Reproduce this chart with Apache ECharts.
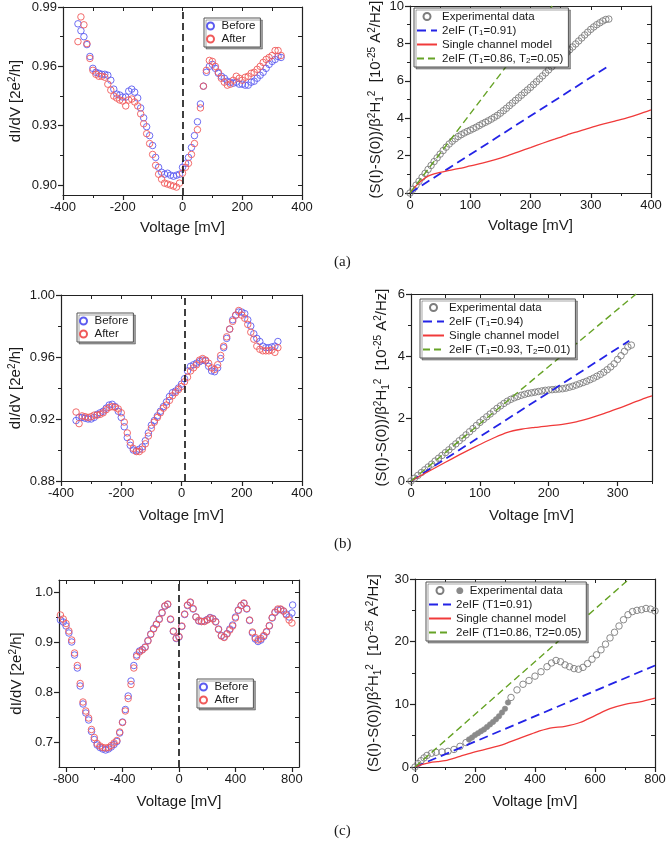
<!DOCTYPE html>
<html><head><meta charset="utf-8">
<script src="https://cdn.jsdelivr.net/npm/echarts@6/dist/echarts.min.js"></script>
<style>html,body{margin:0;padding:0;background:#fff}#c{width:666px;height:841px}</style>
</head><body><div id="c"></div>
<script>
// ---------- DATA ----------
// Panel (a) left: dI/dV
const aVolt = [-350,-340,-330,-320,-310,-300,-290,-280,-270,-260,-250,-240,-230,-220,-210,-200,-190,-180,-170,-160,-150,-140,-130,-120,-110,-100,-90,-80,-70,-60,-50,-40,-30,-20,-10,0,10,20,30,40,50,60,70,80,90,100,110,120,130,140,150,160,170,180,190,200,210,220,230,240,250,260,270,280,290,300,310,320,330];
const aBefore = [0.9815,0.978,0.975,0.971,0.965,0.959,0.957,0.9565,0.956,0.956,0.9555,0.953,0.9485,0.946,0.9455,0.9445,0.9445,0.9475,0.9485,0.947,0.944,0.939,0.934,0.9295,0.925,0.920,0.914,0.909,0.9065,0.9055,0.906,0.905,0.9045,0.905,0.9055,0.909,0.911,0.914,0.919,0.925,0.932,0.941,0.950,0.957,0.960,0.961,0.959,0.9565,0.955,0.954,0.9525,0.952,0.9515,0.952,0.951,0.951,0.9505,0.9505,0.952,0.9525,0.954,0.9555,0.957,0.959,0.961,0.9625,0.9635,0.965,0.9645];
const aAfter = [0.9725,0.985,0.981,0.9715,0.964,0.958,0.956,0.955,0.955,0.9545,0.951,0.948,0.945,0.944,0.943,0.9425,0.940,0.943,0.9435,0.942,0.940,0.936,0.931,0.926,0.921,0.9155,0.910,0.9055,0.903,0.901,0.9005,0.900,0.8995,0.899,0.901,0.906,0.909,0.911,0.9155,0.921,0.928,0.939,0.950,0.958,0.963,0.9625,0.960,0.957,0.954,0.952,0.9505,0.951,0.953,0.955,0.954,0.953,0.9545,0.955,0.9565,0.957,0.9585,0.960,0.962,0.9635,0.9645,0.9655,0.968,0.968,0.9655];
const aDashV = 0;
// Panel (a) right: noise
const aExpV = [0,5,10,15,20,25,30,35,40,45,50,55,60,65,70,75,80,85,90,95,100,105,110,115,120,125,130,135,140,145,150,155,160,165,170,175,180,185,190,195,200,205,210,215,220,225,230,235,240,245,250,255,260,265,270,275,280,285,290,295,300,305,310,315,320,325,330];
const aExp = [0,0.2,0.42,0.63,0.84,1.05,1.26,1.47,1.68,1.88,2.08,2.27,2.45,2.62,2.77,2.9,3.02,3.12,3.21,3.29,3.36,3.44,3.52,3.61,3.7,3.78,3.86,3.95,4.05,4.15,4.27,4.4,4.53,4.67,4.81,4.95,5.09,5.23,5.37,5.51,5.65,5.8,5.95,6.1,6.26,6.42,6.58,6.74,6.9,7.05,7.2,7.35,7.5,7.66,7.81,7.97,8.13,8.29,8.45,8.6,8.75,8.88,9.0,9.1,9.2,9.28,9.3];
const aT1V = [0,330], aT1 = [0,6.8];
const aSingleV = [0,10,20,30,40,50,60,80,100,120,140,160,180,200,220,240,260,280,300,320,340,360,380,400];
const aSingle = [0,0.38,0.68,0.9,1.02,1.1,1.17,1.3,1.45,1.6,1.77,1.97,2.2,2.43,2.66,2.88,3.1,3.3,3.5,3.68,3.85,4.02,4.22,4.45];
const aT12V = [0,236], aT12 = [0,10];

// Panel (b) left
const bVolt = [-350,-340,-330,-320,-310,-300,-290,-280,-270,-260,-250,-240,-230,-220,-210,-200,-190,-180,-170,-160,-150,-140,-130,-120,-110,-100,-90,-80,-70,-60,-50,-40,-30,-20,-10,0,10,20,30,40,50,60,70,80,90,100,110,120,130,140,150,160,170,180,190,200,210,220,230,240,250,260,270,280,290,300,310,320];
const bBefore = [0.919,0.921,0.921,0.9205,0.920,0.920,0.921,0.923,0.924,0.925,0.927,0.929,0.9295,0.928,0.925,0.921,0.915,0.908,0.903,0.900,0.8995,0.9005,0.902,0.906,0.911,0.916,0.919,0.922,0.925,0.928,0.931,0.9345,0.937,0.938,0.940,0.9425,0.946,0.951,0.954,0.955,0.956,0.957,0.958,0.9575,0.954,0.951,0.9505,0.953,0.959,0.966,0.972,0.978,0.984,0.987,0.989,0.989,0.988,0.984,0.980,0.975,0.972,0.970,0.967,0.966,0.966,0.9665,0.967,0.970];
const bAfter = [0.9245,0.917,0.922,0.9215,0.921,0.9215,0.9225,0.9225,0.923,0.924,0.926,0.9275,0.928,0.9275,0.9265,0.924,0.918,0.911,0.905,0.901,0.899,0.899,0.9005,0.904,0.909,0.914,0.918,0.921,0.924,0.927,0.929,0.932,0.935,0.937,0.939,0.941,0.944,0.947,0.951,0.953,0.955,0.958,0.959,0.958,0.956,0.953,0.952,0.955,0.961,0.967,0.973,0.978,0.983,0.987,0.990,0.987,0.985,0.981,0.976,0.9715,0.967,0.965,0.964,0.964,0.964,0.9645,0.963,0.966];
const bDashV = 10;
// Panel (b) right
const bExpV = [0,5,10,15,20,25,30,35,40,45,50,55,60,65,70,75,80,85,90,95,100,105,110,115,120,125,130,135,140,145,150,155,160,165,170,175,180,185,190,195,200,205,210,215,220,225,230,235,240,245,250,255,260,265,270,275,280,285,290,295,300,305,310,315,320];
const bExp = [0,0.09,0.18,0.27,0.36,0.45,0.54,0.64,0.73,0.82,0.91,1.0,1.1,1.19,1.29,1.38,1.48,1.58,1.68,1.78,1.88,1.97,2.06,2.15,2.24,2.33,2.41,2.49,2.56,2.62,2.67,2.71,2.75,2.78,2.81,2.83,2.85,2.87,2.89,2.91,2.92,2.93,2.94,2.95,2.96,2.98,3.01,3.04,3.08,3.12,3.16,3.2,3.25,3.3,3.36,3.42,3.49,3.57,3.66,3.76,3.9,4.02,4.16,4.3,4.36];
const bT1V = [0,317], bT1 = [0,4.5];
const bSingleV = [0,20,40,60,80,100,120,140,160,180,200,220,240,260,280,300,320,340,350];
const bSingle = [0,0.24,0.48,0.72,0.95,1.17,1.38,1.56,1.66,1.72,1.77,1.82,1.9,2.02,2.16,2.32,2.49,2.66,2.73];
const bT12V = [0,327], bT12 = [0,6];

// Panel (c) left
const cVolt = [-840,-820,-800,-780,-760,-740,-720,-700,-680,-660,-640,-620,-600,-580,-560,-540,-520,-500,-480,-460,-440,-420,-400,-380,-360,-340,-320,-300,-280,-260,-240,-220,-200,-180,-160,-140,-120,-100,-80,-60,-40,-20,0,20,40,60,80,100,120,140,160,180,200,220,240,260,280,300,320,340,360,380,400,420,440,460,480,500,520,540,560,580,600,620,640,660,680,700,720,740,760,780,800];
const cBefore = [0.944,0.940,0.932,0.918,0.900,0.874,0.848,0.812,0.776,0.758,0.744,0.721,0.705,0.694,0.689,0.686,0.684,0.686,0.690,0.695,0.701,0.718,0.740,0.765,0.792,0.822,0.853,0.874,0.882,0.885,0.890,0.903,0.916,0.927,0.936,0.946,0.959,0.972,0.975,0.945,0.921,0.907,0.910,0.931,0.955,0.973,0.979,0.966,0.950,0.942,0.941,0.942,0.945,0.949,0.947,0.941,0.926,0.913,0.910,0.917,0.926,0.934,0.950,0.964,0.973,0.977,0.966,0.943,0.918,0.906,0.901,0.904,0.911,0.920,0.932,0.948,0.959,0.964,0.965,0.962,0.956,0.950,0.958];
const cBeforeTailV = [805], cBeforeTail = [0.974];
const cAfter = [0.954,0.946,0.937,0.922,0.904,0.878,0.853,0.817,0.780,0.762,0.748,0.725,0.709,0.697,0.692,0.689,0.688,0.689,0.693,0.698,0.703,0.720,0.739,0.762,0.787,0.815,0.848,0.871,0.880,0.884,0.889,0.902,0.915,0.926,0.935,0.945,0.958,0.972,0.976,0.946,0.922,0.908,0.911,0.932,0.956,0.974,0.980,0.967,0.950,0.943,0.941,0.941,0.944,0.948,0.946,0.940,0.925,0.912,0.909,0.916,0.924,0.932,0.948,0.963,0.973,0.978,0.967,0.944,0.920,0.909,0.904,0.907,0.913,0.921,0.933,0.949,0.960,0.966,0.966,0.962,0.954,0.944,0.938];
const cDashV = 0;
// Panel (c) right
const cExpV = [0,10,20,30,40,55,70,90,110,130,150,170,320,340,360,380,400,420,440,455,470,485,500,515,530,545,560,575,590,605,620,635,650,665,680,695,710,725,740,755,770,785,800];
const cExp = [0,0.55,1.0,1.45,1.85,2.2,2.35,2.4,2.5,2.8,3.3,3.9,11.1,12.3,13.2,13.8,14.5,15.2,16.0,16.6,17.0,16.8,16.3,16.0,15.7,15.6,15.9,16.5,17.2,17.9,18.7,19.6,20.6,21.5,22.5,23.5,24.3,24.8,25.0,25.1,25.3,25.2,24.9];
const cFillV = [180,190,200,210,220,230,240,250,260,270,280,290,300,310];
const cFill = [4.4,4.7,5.1,5.4,5.7,6.0,6.4,6.8,7.2,7.6,8.1,8.7,9.3,10.3];
const cT1V = [0,800], cT1 = [0,16.2];
const cSingleV = [0,25,50,75,100,150,200,250,300,350,400,450,500,550,600,650,700,750,800];
const cSingle = [0,0.4,0.7,0.85,1.0,1.7,2.4,3.0,3.7,4.6,5.5,6.2,6.5,7.1,8.2,9.3,10.0,10.4,11.0];
const cT12V = [0,714], cT12 = [0,30];

// Axis tick labels
const xTicksLeftAB = [-400,-200,0,200,400], xMinorLeftAB = [-300,-100,100,300];
const xTicksLeftC = [-800,-400,0,400,800], xMinorLeftC = [-600,-200,200,600];
const yTicksA = [0.90,0.93,0.96,0.99], yMinorA = [0.915,0.945,0.975];
const yTicksB = [0.88,0.92,0.96,1.00], yMinorB = [0.90,0.94,0.98];
const yTicksC = [0.7,0.8,0.9,1.0], yMinorC = [0.75,0.85,0.95];
const xTicksRA = [0,100,200,300,400], xMinorRA = [50,150,250,350];
const xTicksRB = [0,100,200,300], xMinorRB = [50,150,250,350];
const xTicksRC = [0,200,400,600,800], xMinorRC = [100,300,500,700];
const yTicksRA = [0,2,4,6,8,10], yMinorRA = [1,3,5,7,9];
const yTicksRB = [0,2,4,6], yMinorRB = [1,3,5];
const yTicksRC = [0,10,20,30], yMinorRC = [5,15,25];

// ---------- CHART ----------
const FONT = '"Liberation Sans", Arial, Helvetica, sans-serif';
const INK = '#1a1a1a';
const BLUE_M = '#5c5cf0', RED_M = '#f05a5a', GREY_M = '#7d7d7d';

const panels = [
  {grid:{left:63, top:7, width:239, height:188},
   x:{min:-400,max:400,major:xTicksLeftAB,minor:xMinorLeftAB,dec:0,gap:24},
   y:{min:0.895,max:0.99,major:yTicksA,minor:yMinorA,dec:2,gap:38,kind:'L'}},
  {grid:{left:410, top:6, width:241, height:187},
   x:{min:0,max:400,major:xTicksRA,minor:xMinorRA,dec:0,gap:24},
   y:{min:0,max:10,major:yTicksRA,minor:yMinorRA,dec:0,gap:25,kind:'R'}},
  {grid:{left:61, top:295, width:241, height:186},
   x:{min:-400,max:400,major:xTicksLeftAB,minor:xMinorLeftAB,dec:0,gap:26},
   y:{min:0.88,max:1.0,major:yTicksB,minor:yMinorB,dec:2,gap:36,kind:'L'}},
  {grid:{left:411, top:294, width:241, height:187},
   x:{min:0,max:350,major:xTicksRB,minor:xMinorRB,dec:0,gap:26},
   y:{min:0,max:6,major:yTicksRB,minor:yMinorRB,dec:0,gap:20,kind:'R'}},
  {grid:{left:59, top:580, width:240, height:187},
   x:{min:-850,max:850,major:xTicksLeftC,minor:xMinorLeftC,dec:0,gap:26},
   y:{min:0.65,max:1.024,major:yTicksC,minor:yMinorC,dec:1,gap:33,kind:'L'}},
  {grid:{left:415, top:579, width:240, height:188},
   x:{min:0,max:800,major:xTicksRC,minor:xMinorRC,dec:0,gap:26},
   y:{min:0,max:30,major:yTicksRC,minor:yMinorRC,dec:0,gap:32,kind:'R'}}
];

const Y_NAME_L = 'dI/dV [2e{sup|2}/h]';
const Y_NAME_R = '(S(I)-S(0))/\u03B2{sup|2}H{sub|1}{sup|2}  [10{sup|-25} A{sup|2}/Hz]';
const nameRich = {
  sup:{fontSize:10, lineHeight:10, verticalAlign:'top', fontFamily:FONT, color:INK},
  sub:{fontSize:10, lineHeight:10, verticalAlign:'bottom', fontFamily:FONT, color:INK}
};

const axLine = {show:true, onZero:false, lineStyle:{color:'#222', width:1.2}};
function mkAxes(dim, g, s) {
  const isX = dim === 'x';
  const major = {
    type:'value', gridIndex:g, position: isX ? 'bottom' : 'left', min:s.min, max:s.max,
    axisLine:axLine, splitLine:{show:false},
    axisTick:{show:true, inside:false, length:5, lineStyle:{color:'#222', width:1.2}, customValues:s.major},
    axisLabel:{show:true, customValues:s.major, fontSize:13, color:INK, fontFamily:FONT, margin:6,
      hideOverlap:false, formatter:v => Number(v).toFixed(s.dec)},
    nameLocation:'middle', nameGap:s.gap,
    name: isX ? 'Voltage [mV]' : (s.kind === 'L' ? Y_NAME_L : Y_NAME_R),
    nameTextStyle:{fontSize:15, color:INK, fontFamily:FONT, lineHeight:18, rich:nameRich}
  };
  const minor = {
    type:'value', gridIndex:g, position: isX ? 'bottom' : 'left', min:s.min, max:s.max,
    axisLine:{show:false, onZero:false}, splitLine:{show:false}, axisLabel:{show:false},
    axisTick:{show:true, inside:false, length:3, lineStyle:{color:'#222', width:1}, customValues:s.minor}
  };
  const opp = {
    type:'value', gridIndex:g, position: isX ? 'top' : 'right', min:s.min, max:s.max,
    axisLine:axLine, splitLine:{show:false}, axisLabel:{show:false},
    axisTick:{show:true, inside:true, length:4, lineStyle:{color:'#222', width:1}, customValues:s.major.concat(s.minor)}
  };
  return [major, minor, opp];
}

const grid = [], xAxis = [], yAxis = [];
panels.forEach((p, g) => {
  grid.push(Object.assign({containLabel:false, outerBoundsMode:'none'}, p.grid));
  xAxis.push(...mkAxes('x', g, p.x));
  yAxis.push(...mkAxes('y', g, p.y));
});

function pairs(xs, ys) { return xs.map((x, i) => [x, ys[i]]); }
function scatterS(name, g, xs, ys, color, filled, extra) {
  return Object.assign({
    type:'scatter', name, xAxisIndex:3*g, yAxisIndex:3*g, data:pairs(xs, ys),
    symbol:'circle', symbolSize: filled ? 5.5 : 6.5, silent:true,
    itemStyle:{color: filled ? color : 'rgba(255,255,255,0)', borderColor:color, borderWidth: filled ? 0.5 : 0.9, opacity:1}
  }, extra || {});
}
function lineS(name, g, xs, ys, color, width, dash, smooth) {
  return {
    type:'line', name, xAxisIndex:3*g, yAxisIndex:3*g, data:pairs(xs, ys),
    symbol:'none', showSymbol:false, smooth: smooth || false, silent:true, clip:true,
    lineStyle:{color, width, type: dash || 'solid'}, itemStyle:{color}
  };
}
function dashMark(v) {
  return {markLine:{silent:true, symbol:['none','none'], label:{show:false},
    lineStyle:{color:'#111', type:[7,4], width:1.6}, data:[{xAxis:v}]}};
}

const BLUE_L = '#2323e6', GREEN_L = '#66a326', RED_L = '#f03a3a';
const series = [
  scatterS('Before', 0, aVolt, aBefore, BLUE_M, false),
  scatterS('After', 0, aVolt, aAfter, RED_M, false, dashMark(aDashV)),
  scatterS('Experimental data', 1, aExpV, aExp, GREY_M, false),
  lineS('2eIF (T1=0.91)', 1, aT1V, aT1, BLUE_L, 1.8, [9,5]),
  lineS('Single channel model', 1, aSingleV, aSingle, RED_L, 1.3, 'solid', 0.3),
  lineS('2eIF (T1=0.86, T2=0.05)', 1, aT12V, aT12, GREEN_L, 1.4, [7,4]),

  scatterS('Before', 2, bVolt, bBefore, BLUE_M, false),
  scatterS('After', 2, bVolt, bAfter, RED_M, false, dashMark(bDashV)),
  scatterS('Experimental data', 3, bExpV, bExp, GREY_M, false),
  lineS('2eIF (T1=0.94)', 3, bT1V, bT1, BLUE_L, 1.8, [9,5]),
  lineS('Single channel model', 3, bSingleV, bSingle, RED_L, 1.3, 'solid', 0.3),
  lineS('2eIF (T1=0.93, T2=0.01)', 3, bT12V, bT12, GREEN_L, 1.4, [7,4]),

  scatterS('Before', 4, cVolt.concat(cBeforeTailV), cBefore.concat(cBeforeTail), BLUE_M, false),
  scatterS('After', 4, cVolt, cAfter, RED_M, false, dashMark(cDashV)),
  scatterS('Experimental data', 5, cExpV, cExp, GREY_M, false),
  scatterS('Experimental data (filled)', 5, cFillV, cFill, '#8a8a8a', true),
  lineS('2eIF (T1=0.91)', 5, cT1V, cT1, BLUE_L, 1.8, [9,5]),
  lineS('Single channel model', 5, cSingleV, cSingle, RED_L, 1.3, 'solid', 0.3),
  lineS('2eIF (T1=0.86, T2=0.05)', 5, cT12V, cT12, GREEN_L, 1.4, [7,4])
];

const legRich = {
  s:{fontSize:8, lineHeight:7, verticalAlign:'bottom', fontFamily:FONT, color:INK},
  dot:{fontSize:9, color:'#8a8a8a', fontFamily:'DejaVu Sans', padding:[0,6,0,0]}
};
const subFmt = {
  '2eIF (T1=0.91)':'2eIF (T{s|1}=0.91)',
  '2eIF (T1=0.86, T2=0.05)':'2eIF (T{s|1}=0.86, T{s|2}=0.05)',
  '2eIF (T1=0.94)':'2eIF (T{s|1}=0.94)',
  '2eIF (T1=0.93, T2=0.01)':'2eIF (T{s|1}=0.93, T{s|2}=0.01)'
};
const plainC = {'Experimental data':'{dot|\u25CF}Experimental data'};
const noSym = {color:'rgba(0,0,0,0)', borderColor:'rgba(0,0,0,0)', borderWidth:0};
function legendItem(n) {
  return (n === 'Experimental data' || n === 'Before' || n === 'After') ? {name:n} : {name:n, itemStyle:noSym};
}
function mkLegend(names, left, top, itemWidth, rowH, fmt) {
  return {
    show:true, orient:'vertical', left, top, data:names.map(legendItem), selectedMode:false,
    itemWidth, itemHeight:7, itemGap:1, padding:[2,5,2,2],
    borderColor:'#555', borderWidth:1, borderRadius:0, backgroundColor:'#fff',
    shadowColor:'rgba(0,0,0,0.35)', shadowOffsetX:2, shadowOffsetY:2, shadowBlur:0,
    textStyle:{fontSize:11.5, color:INK, fontFamily:FONT, lineHeight:rowH, rich:legRich},
    formatter: n => (fmt && fmt[n]) || n
  };
}
const rNamesA = ['Experimental data','2eIF (T1=0.91)','Single channel model','2eIF (T1=0.86, T2=0.05)'];
const rNamesB = ['Experimental data','2eIF (T1=0.94)','Single channel model','2eIF (T1=0.93, T2=0.01)'];
const legend = [
  mkLegend(['Before','After'], 204, 18, 12, 12),
  mkLegend(['Before','After'], 77, 313, 12, 12),
  mkLegend(['Before','After'], 197, 679, 12, 12),
  mkLegend(rNamesA, 414, 8, 20, 13, subFmt),
  mkLegend(rNamesB, 420, 299, 21, 13, subFmt),
  mkLegend(rNamesA, 426, 582, 22, 13, plainC)
];

const panelLabels = ['(a)','(b)','(c)'];
const labelY = [264, 546, 833];
const graphic = panelLabels.map((t, i) => ({
  type:'text', left:344 - 10, top:labelY[i] - 9, silent:true,
  style:{text:t, font:'15px "Liberation Serif", "DejaVu Serif", serif', fill:INK}
}));

const chart = echarts.init(document.getElementById('c'), null, {renderer:'canvas'});
chart.setOption({
  animation:false, backgroundColor:'#fff',
  grid, xAxis, yAxis, series, legend, graphic
});
</script>
</body></html>
